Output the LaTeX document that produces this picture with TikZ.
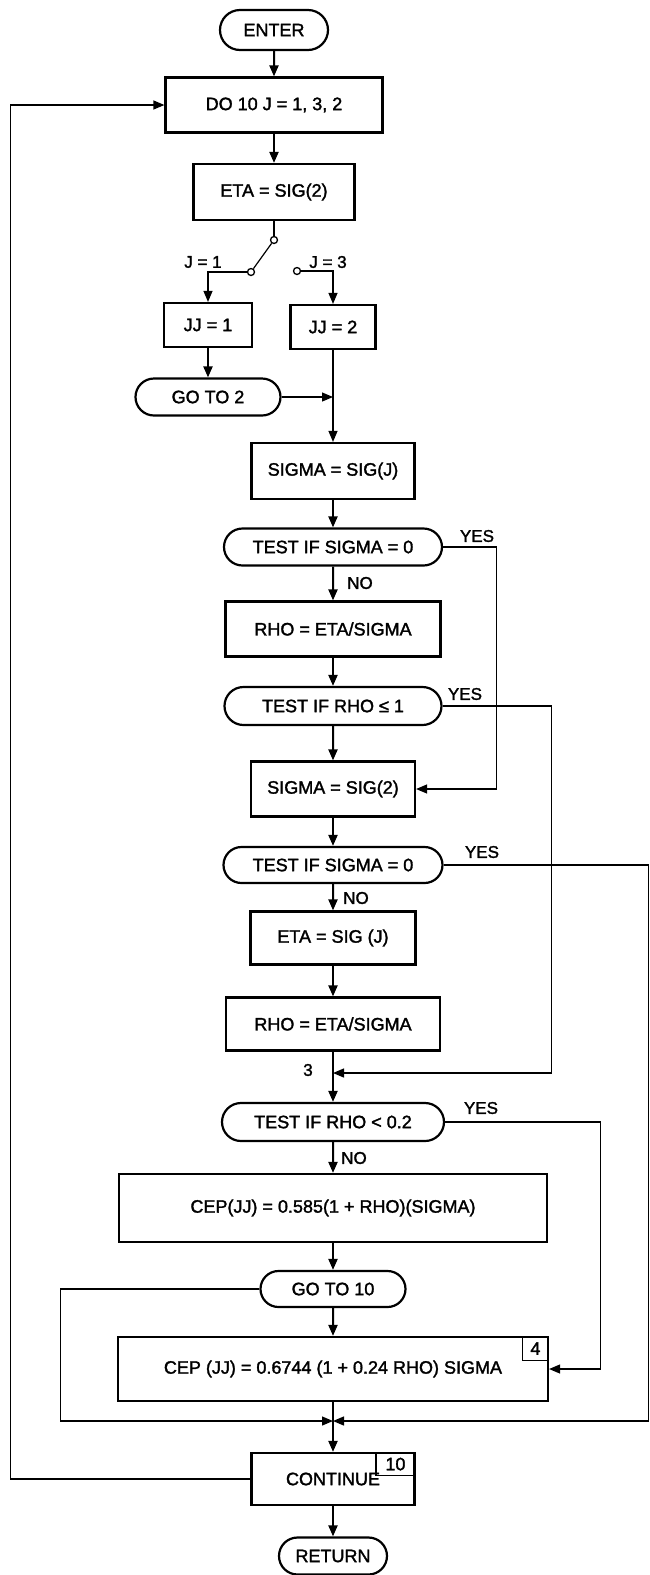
\documentclass[tikz,border=0pt]{standalone}
\usepackage{fontspec}
\setmainfont{Liberation Sans}[UprightFeatures={FakeBold=1.7}]
\usetikzlibrary{arrows.meta, shapes.misc}

\begin{document}
\begin{tikzpicture}[
    x=1pt, y=-1pt,
    every node/.style={font=\fontsize{18}{21}\selectfont, inner sep=0pt},
    box/.style={draw, line width=2.2pt, rectangle, align=center},
    pill/.style={draw, line width=2.2pt, rounded rectangle, align=center},
    arr/.style={-{Triangle[length=11pt, width=9pt]}, line width=2pt},
    sideline/.style={line width=1.2pt},
    sidearr/.style={sideline, -{Triangle[length=11pt, width=9pt]}},
    numtag/.style={draw, line width=1.3pt, anchor=north east},
    lbl/.style={font=\fontsize{17}{20}\selectfont},
    swdot/.style={circle, draw, line width=1.3pt, minimum size=7pt}
  ]
  \useasboundingbox (0,0) rectangle (649,1575);

  % --- top column ---
  \node[pill, minimum width=108pt, minimum height=40pt] (enter) at (274,30) {ENTER};
  \node[box, minimum width=217pt, minimum height=55pt] (do) at (274,105) {DO 10 J = 1, 3, 2};
  \node[box, minimum width=161pt, minimum height=56pt] (eta) at (274,192) {ETA = SIG(2)};

  % --- switch on J ---
  \node[swdot] (swtop) at (274,240) {};
  \node[swdot] (swa) at (251,272) {};
  \node[swdot] (swb) at (297,271) {};
  \node[lbl] (lj1) at (203,262) {J = 1};
  \node[lbl] (lj3) at (328,262) {J = 3};

  \node[box, minimum width=88pt, minimum height=44pt] (jj1) at (208,325) {JJ = 1};
  \node[box, minimum width=85pt, minimum height=44pt] (jj2) at (333,327) {JJ = 2};
  \node[pill, minimum width=145pt, minimum height=37pt] (go2) at (208,397) {GO TO 2};

  % --- main column ---
  \node[box, minimum width=163pt, minimum height=56pt] (sigj) at (333,471) {SIGMA = SIG(J)};
  \node[pill, minimum width=218pt, minimum height=37pt] (t1) at (333,547) {TEST IF SIGMA = 0};
  \node[box, minimum width=215pt, minimum height=55pt] (rho1) at (333,629) {RHO = ETA/SIGMA};
  \node[pill, minimum width=217pt, minimum height=38pt] (t2) at (333,706) {TEST IF RHO ≤ 1};
  \node[box, minimum width=164pt, minimum height=55pt] (sig2) at (333,789) {SIGMA = SIG(2)};
  \node[pill, minimum width=219pt, minimum height=36pt] (t3) at (333,865) {TEST IF SIGMA = 0};
  \node[box, minimum width=165pt, minimum height=53pt] (etaj) at (333,938) {ETA = SIG (J)};
  \node[box, minimum width=214pt, minimum height=53pt] (rho2) at (333,1024) {RHO = ETA/SIGMA};
  \coordinate (j3) at (333,1073);
  \node[pill, minimum width=222pt, minimum height=38pt] (t4) at (333,1122) {TEST IF RHO < 0.2};
  \node[box, minimum width=428pt, minimum height=68pt] (cep1) at (333,1208) {CEP(JJ) = 0.585(1 + RHO)(SIGMA)};
  \node[pill, minimum width=145pt, minimum height=36pt] (go10) at (333,1289) {GO TO 10};
  \node[box, minimum width=430pt, minimum height=64pt] (cep2) at (333,1369) {CEP (JJ) = 0.6744 (1 + 0.24 RHO) SIGMA};
  \node[numtag, minimum width=26pt, minimum height=24pt] (tag4) at (cep2.north east) {4};
  \coordinate (mrg) at (333,1421);
  \node[box, minimum width=163pt, minimum height=52pt] (cont) at (333,1479) {CONTINUE};
  \node[numtag, minimum width=39pt, minimum height=23pt] (tag10) at (cont.north east) {10};
  \node[pill, minimum width=108pt, minimum height=37pt] (ret) at (333,1556) {RETURN};

  % --- labels ---
  \node[lbl] (yes1) at (477,536) {YES};
  \node[lbl] (no1) at (360,583) {NO};
  \node[lbl] (yes2) at (465,694) {YES};
  \node[lbl] (yes3) at (482,852) {YES};
  \node[lbl] (no2) at (356,898) {NO};
  \node[lbl] (lab3) at (308,1070) {3};
  \node[lbl] (yes4) at (481,1108) {YES};
  \node[lbl] (no3) at (354,1158) {NO};

  % --- connectors ---
  \draw[arr] (enter) -- (do);
  \draw[arr] (do) -- (eta);
  \draw[sideline] (eta) -- (swtop);
  \draw[sideline] (swtop) -- (swa);
  \draw[sidearr] (swa) -| (jj1);
  \draw[sidearr] (swb) -| (jj2);
  \draw[arr] (jj1) -- (go2);
  \draw[sidearr] (jj2) -- (sigj);
  \draw[sidearr] (go2.east) -- (go2.east -| jj2.south);
  \draw[arr] (sigj) -- (t1);
  \draw[arr] (t1) -- (rho1);
  \draw[arr] (rho1) -- (t2);
  \draw[arr] (t2) -- (sig2);
  \draw[arr] (sig2) -- (t3);
  \draw[arr] (t3) -- (etaj);
  \draw[arr] (etaj) -- (rho2);
  \draw[arr] (rho2) -- (t4);
  \draw[arr] (t4) -- (cep1);
  \draw[arr] (cep1) -- (go10);
  \draw[arr] (go10) -- (cep2);
  \draw[arr] (cep2) -- (cont);
  \draw[arr] (cont) -- (ret);

  \draw[sidearr] (t1.east) -- ++(53,0) |- (sig2.east);
  \draw[sidearr] (t2.east) -- ++(109,0) |- (j3);
  \draw[sidearr] (t3.east) -- ++(205,0) |- (mrg);
  \draw[sidearr] (t4.east) -- ++(155,0) |- (cep2.east);
  \draw[sidearr] (go10.west) -- ++(-199,0) |- (mrg);
  \draw[sidearr] (cont.west) -- ++(-240,0) |- (do.west);
\end{tikzpicture}
\end{document}
